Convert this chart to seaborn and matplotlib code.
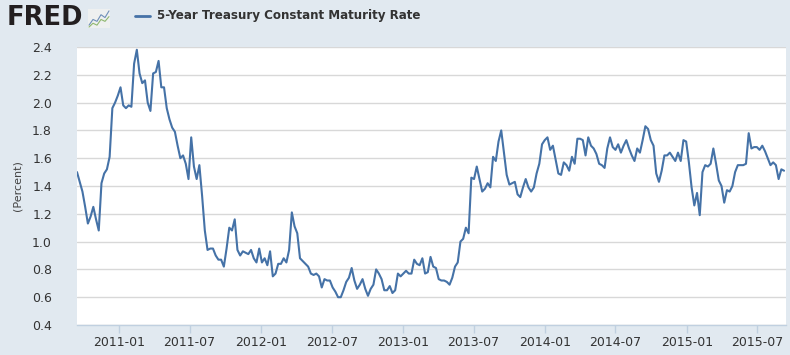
import numpy as np
import pandas as pd
import matplotlib
matplotlib.use("Agg")
import matplotlib.pyplot as plt
import matplotlib.dates as mdates
from matplotlib.lines import Line2D
import seaborn as sns

# ---- data (weekly readings of the 5-Year Treasury Constant Maturity Rate, %) ----
start_date = "2010-09-14"
rate = [
    1.50, 1.43, 1.36, 1.25, 1.13, 1.18, 1.25, 1.16, 1.08, 1.42,
    1.49, 1.52, 1.61, 1.96, 2.00, 2.05, 2.11, 1.98, 1.96, 1.98,
    1.97, 2.28, 2.38, 2.21, 2.14, 2.16, 2.00, 1.94, 2.21, 2.22,
    2.30, 2.11, 2.11, 1.96, 1.88, 1.82, 1.79, 1.69,
    1.60, 1.62, 1.56, 1.45, 1.75, 1.54, 1.45, 1.55, 1.33, 1.08,
    0.94, 0.95, 0.95, 0.90, 0.87, 0.87, 0.82, 0.95, 1.10, 1.08,
    1.16, 0.94, 0.90, 0.93, 0.92, 0.91, 0.94, 0.88, 0.85, 0.95,
    0.85, 0.88, 0.83, 0.93, 0.75, 0.77, 0.84,
    0.84, 0.88, 0.85, 0.94, 1.21, 1.11, 1.06, 0.88, 0.86, 0.84,
    0.82, 0.77, 0.76, 0.77, 0.75, 0.67, 0.73, 0.72, 0.72, 0.67,
    0.64, 0.60, 0.60, 0.65, 0.71, 0.74, 0.81, 0.72, 0.66, 0.69,
    0.73, 0.66, 0.61, 0.66, 0.69, 0.80, 0.77,
    0.73, 0.65, 0.65, 0.68, 0.63, 0.65, 0.77, 0.75, 0.77, 0.79,
    0.77, 0.77, 0.87, 0.84, 0.83, 0.88, 0.77, 0.78, 0.89, 0.82,
    0.81, 0.73, 0.72, 0.72, 0.71, 0.69, 0.74, 0.82, 0.85, 1.00,
    1.02, 1.10, 1.06, 1.46, 1.45, 1.54, 1.45,
    1.36, 1.38, 1.42, 1.39, 1.61, 1.58, 1.72, 1.80, 1.64, 1.48,
    1.41, 1.42, 1.43, 1.34, 1.32, 1.39, 1.45, 1.39, 1.36, 1.39,
    1.49, 1.56, 1.70, 1.73, 1.75, 1.66, 1.69, 1.59, 1.49, 1.48,
    1.57, 1.55, 1.51, 1.61, 1.56, 1.74,
    1.74, 1.73, 1.62, 1.75, 1.69, 1.67, 1.63, 1.56, 1.55, 1.53,
    1.67, 1.75, 1.68, 1.66, 1.70, 1.64, 1.69, 1.73, 1.67, 1.62,
    1.58, 1.67, 1.64, 1.73, 1.83, 1.81, 1.73, 1.69, 1.49, 1.43,
    1.51, 1.62, 1.62, 1.64, 1.61, 1.58, 1.64,
    1.58, 1.73, 1.72, 1.57, 1.39, 1.26, 1.35, 1.19, 1.50, 1.55,
    1.54, 1.56, 1.67, 1.56, 1.44, 1.40, 1.28, 1.37, 1.36, 1.40,
    1.50, 1.55, 1.55, 1.55, 1.56, 1.78, 1.67, 1.68, 1.68, 1.66,
    1.69, 1.65, 1.60, 1.55, 1.57, 1.55, 1.45, 1.52, 1.51,
]
y_ticks = [0.4, 0.6, 0.8, 1.0, 1.2, 1.4, 1.6, 1.8, 2.0, 2.2, 2.4]
series_name = "5-Year Treasury Constant Maturity Rate"
y_label = "(Percent)"
x_start, x_end = "2010-09-14", "2015-09-13"

dates = pd.date_range(start_date, periods=len(rate), freq="7D")
df = pd.DataFrame({"date": dates, "rate": rate})

# ---- style ----
sns.set_theme(style="white")
plt.rcParams["font.family"] = ["DejaVu Sans"]

BG = "#e1e9f0"
LINE = "#4572a7"
TXT = "#333333"

fig = plt.figure(figsize=(7.9, 3.55), dpi=100, facecolor=BG)
ax = fig.add_axes([77 / 790, 30 / 355, 709 / 790, 278 / 355])
ax.set_facecolor("white")

sns.lineplot(data=df, x="date", y="rate", ax=ax, color=LINE,
             linewidth=1.5, estimator=None)

ax.set_xlim(pd.Timestamp(x_start), pd.Timestamp(x_end))
ax.set_ylim(y_ticks[0], y_ticks[-1])
ax.set_yticks(y_ticks)
ax.set_yticklabels([f"{v:.1f}" for v in y_ticks])
ax.xaxis.set_major_locator(mdates.MonthLocator(bymonth=[1, 7]))
ax.xaxis.set_major_formatter(mdates.DateFormatter("%Y-%m"))

ax.yaxis.grid(True, color="#d8d8d8", linewidth=1.0)
ax.xaxis.grid(False)
ax.set_axisbelow(True)
for s in ["top", "right", "left"]:
    ax.spines[s].set_visible(False)
ax.spines["bottom"].set_color("#c0d0e0")
ax.spines["bottom"].set_linewidth(1.0)

ax.tick_params(axis="y", left=False, length=0, pad=18, labelsize=9,
               labelcolor=TXT)
ax.tick_params(axis="x", bottom=True, direction="out", length=6, width=1,
               color="#c0d0e0", pad=2, labelsize=9, labelcolor=TXT)
ax.set_xlabel("")
ax.set_ylabel(y_label, fontsize=8, color="#444444", labelpad=7)

# ---- header: logo + legend ----
fig.text(7 / 790, 1 - 18 / 355, "FRED", fontsize=18.5, fontweight="heavy",
         color="#231f20", va="center", ha="left")
icon = fig.add_axes([88 / 790, 1 - 28 / 355, 22 / 790, 19 / 355])
icon.set_facecolor("#eef0f0")
logo_blue = [0.15, 0.45, 0.35, 0.7, 0.55, 0.9]
logo_green = [0.05, 0.25, 0.15, 0.45, 0.35, 0.6]
icon.plot(range(len(logo_blue)), logo_blue, color="#6f8fb8", lw=0.8)
icon.plot(range(len(logo_green)), logo_green, color="#8fb86f", lw=0.8)
icon.set_ylim(0, 1)
icon.set_xticks([]); icon.set_yticks([])
for s in icon.spines.values():
    s.set_visible(False)

fig.add_artist(Line2D([135 / 790, 150 / 790], [1 - 16 / 355, 1 - 16 / 355],
                      transform=fig.transFigure, color=LINE, lw=2))
fig.text(157 / 790, 1 - 16 / 355, series_name, fontsize=8.6,
         fontweight="bold", color=TXT, va="center", ha="left")

fig.savefig("out.png", dpi=100, facecolor=BG)
